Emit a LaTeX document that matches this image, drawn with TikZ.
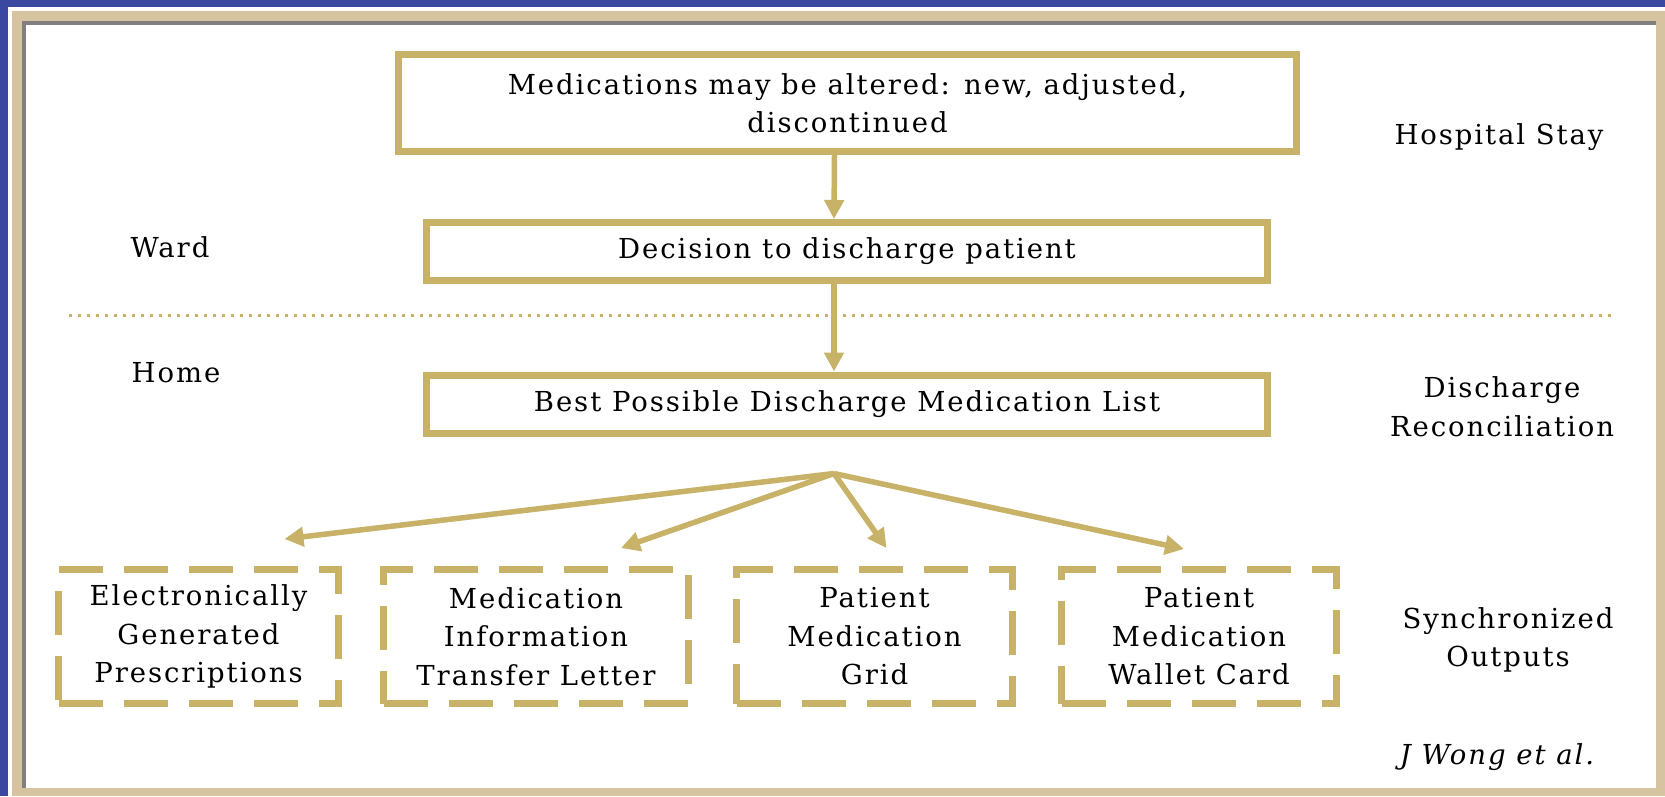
\documentclass[tikz,border=0pt]{standalone}
\usepackage{fontspec}
\setmainfont{DejaVu Serif}[LetterSpace=7]
\usetikzlibrary{arrows.meta}
\usetikzlibrary{positioning}

\definecolor{frameblue}{RGB}{58,72,162}
\definecolor{frametan}{RGB}{214,196,160}
\definecolor{boxgold}{RGB}{199,178,104}

\begin{document}
\begin{tikzpicture}[x=1pt, y=-1pt,
  every node/.style={font=\fontsize{27.5}{38.5}\selectfont, inner sep=0pt, align=center},
  stage box/.style={draw=boxgold, line width=7pt},
  out box/.style={draw=boxgold, line width=7pt, dash pattern=on 44pt off 21pt, minimum height=134pt},
  flow arrow/.style={draw=boxgold, line width=5.5pt, -{Triangle[length=19pt, width=19pt]}}]

  \useasboundingbox (0,0) rectangle (1665,796);

  % slide frame
  \fill[frameblue] (0,0) rectangle (1665,796);
  \fill[white] (8,7) rectangle (1665,796);
  \fill[frametan] (12,11) rectangle (1665,796);
  \fill[gray] (22,21) rectangle (1656,788);
  \fill[white] (26,25) rectangle (1656,788);

  % ward steps
  \node[stage box, minimum width=898pt, minimum height=97pt] (altered) at (847.5,103)
    {Medications may be altered: new, adjusted,\\discontinued};
  \node[stage box, minimum width=841pt, minimum height=58pt] (decision) at (847,251.5)
    {Decision to discharge patient};

  % ward / home divider
  \draw[boxgold, line width=3pt, dash pattern=on 3pt off 6pt] (69,315) -- (1616,315);

  % discharge list
  \node[stage box, minimum width=841pt, minimum height=58pt] (best-list) at (847,404)
    {Best Possible Discharge Medication List};

  \draw[flow arrow] ([xshift=-13pt]altered.south) -- ([xshift=-13pt]decision.north);
  \draw[flow arrow] ([xshift=-13pt]decision.south) -- ([xshift=-13pt]best-list.north);

  % outputs
  \node[out box, minimum width=280pt] (out-rx) at (198.5,636.5)
    {Electronically\\Generated\\Prescriptions};
  \node[out box, minimum width=305pt] (out-letter) at (536,636.5)
    {Medication\\Information\\Transfer Letter};
  \node[out box, minimum width=276pt] (out-grid) at (874.5,636.5)
    {Patient\\Medication\\Grid};
  \node[out box, minimum width=275pt] (out-card) at (1199,636.5)
    {Patient\\Medication\\Wallet Card};

  % fan out from the list
  \coordinate (fork) at ([xshift=-13pt, yshift=-37pt]best-list.south);
  \draw[flow arrow] (fork) -- ([xshift=86pt, yshift=27pt]out-rx.north);
  \draw[flow arrow] (fork) -- ([xshift=85pt, yshift=18pt]out-letter.north);
  \draw[flow arrow] (fork) -- ([xshift=12pt, yshift=18pt]out-grid.north);
  \draw[flow arrow] (fork) -- ([xshift=-15pt, yshift=17pt]out-card.north);

  % stage labels
  \node (ward) at (170,247) {Ward};
  \node (home) at (176,373) {Home};
  \node (hospital-stay) at (1499,137) {Hospital Stay};
  \node (discharge-rec) at (1502,406.5) {Discharge\\Reconciliation};
  \node (sync-out) at (1508,640) {Synchronized\\Outputs};
  \node (credit) at (1497,757) {\itshape J Wong et al.};

\end{tikzpicture}
\end{document}
